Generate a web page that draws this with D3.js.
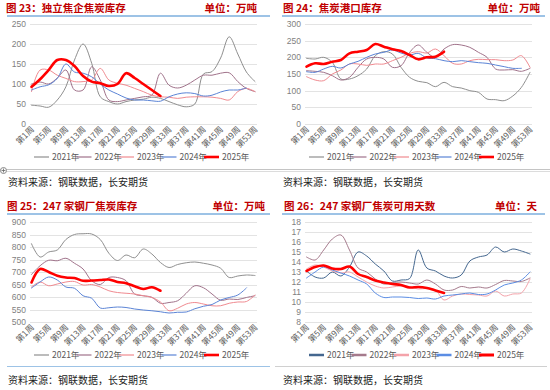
<!DOCTYPE html>
<html><head><meta charset="utf-8">
<script src="https://cdn.jsdelivr.net/npm/d3@7/dist/d3.min.js"></script>
<style>body{margin:0;background:#fff}svg{display:block}</style>
</head><body><svg id="c" width="550" height="390"></svg>
<script>
// ---------- data ----------
const weeks = [1,3,5,7,9,11,13,15,17,19,21,23,25,27,29,31,33,35,37,39,41,43,45,47,49,51,53];
const tickWeeks = [1,5,9,13,17,21,25,29,33,37,41,45,49,53];
const tickLabels = ["第1周","第5周","第9周","第13周","第17周","第21周","第25周","第29周","第33周","第37周","第41周","第45周","第49周","第53周"];
const seriesNames = ["2021年","2022年","2023年","2024年","2025年"];

// 图23 独立焦企焦炭库存 (万吨)
const c23_2021 = [47,45,42,60,93,160,200,152,68,56,50,56,60,62,67,64,56,48,43,50,125,131,165,218,175,130,106];
const c23_2022 = [100,105,100,115,135,85,85,143,110,60,56,60,64,68,72,127,97,90,97,110,122,122,127,128,106,89,81];
const c23_2023 = [81,135,135,122,114,106,106,110,139,110,102,97,89,81,72,68,67,64,67,68,68,67,64,60,81,89,81];
const c23_2024 = [85,93,98,114,150,130,127,118,100,85,75,65,60,60,58,57,68,75,78,76,70,72,80,85,85,90];
const c23_2025 = [93,112,135,160,160,145,120,106,102,95,100,127,115,100,85,70];
const c23_ticks = [0,50,100,150,200,250];

// 图24 焦炭港口库存 (万吨)
const c24_2021 = [197,195,200,185,135,135,145,165,205,217,210,170,140,128,124,112,125,112,108,100,95,75,73,70,84,110,155];
const c24_2022 = [160,158,155,145,132,140,170,195,200,195,170,175,215,237,215,200,225,238,237,230,215,200,165,162,163,158,167];
const c24_2023 = [142,132,130,150,162,180,180,176,180,180,190,200,212,217,213,225,205,182,180,190,194,193,193,190,192,205,170];
const c24_2024 = [157,155,165,173,168,180,188,200,210,215,222,213,207,212,198,196,190,187,190,187,184,182,177,172,167,167];
const c24_2025 = [172,182,180,187,192,212,217,222,240,232,224,219,207,194,200,202,217];
const c24_ticks = [0,50,100,150,200,250,300];

// 图25 247家钢厂焦炭库存 (万吨)
const c25_2021 = [813,760,780,788,830,850,853,852,830,775,746,768,757,792,772,738,718,730,737,740,735,728,715,678,684,688,686];
const c25_2022 = [690,725,747,745,755,735,712,665,650,678,678,665,612,605,599,575,578,585,615,645,637,612,587,592,590,598,605];
const c25_2023 = [640,660,645,652,660,662,648,650,640,625,618,615,612,605,598,580,545,555,572,578,572,565,565,575,580,582,608];
const c25_2024 = [636,660,680,668,640,635,605,595,556,557,560,558,552,548,545,541,536,539,540,553,563,570,588,598,608,636];
const c25_2025 = [658,712,700,685,678,676,665,666,668,670,660,655,643,632,639,625];
const c25_ticks = [500,550,600,650,700,750,800,850,900];

// 图26 247家钢厂焦炭可用天数 (天)
const c26_2021 = [13.1,12.5,12.4,13.0,12.6,13.5,15.0,14.6,13.8,13.1,12.1,12.2,12.35,15.2,13.4,13.1,12.6,12.4,12.7,14.1,14.5,14.7,15.5,15.0,15.3,15.1,14.8];
const c26_2022 = [14.5,14.2,15.2,16.3,16.7,15.2,13.4,13.0,12.3,11.8,11.95,12.0,11.9,11.8,12.2,11.8,11.2,11.2,11.55,11.4,11.5,11.4,11.75,12.15,12.1,12.05,12.4];
const c26_2023 = [13.3,13.7,13.5,13.1,12.9,13.0,12.5,12.0,11.6,11.4,11.5,11.6,11.5,11.3,11.35,11.2,10.2,10.6,10.8,10.75,10.7,10.6,11.1,10.6,10.8,10.9,12.3];
const c26_2024 = [12.4,13.0,13.5,13.2,12.9,12.6,12.2,11.8,10.9,10.45,10.5,10.5,10.45,10.35,10.4,10.3,10.6,10.7,10.8,10.9,10.75,10.8,11.2,11.7,11.9,12.2,13.0];
const c26_2025 = [13.1,13.5,13.65,13.35,13.3,13.55,12.8,12.5,12.15,11.95,11.8,11.7,11.45,11.5,11.4,11.15,10.9];
const c26_ticks = [8,9,10,11,12,13,14,15,16,17,18];

// ---------- styles ----------
const colorsA = ["#8f8f8f","#a0728a","#f08a90","#5b84d6","#ff0000"];
const colorsB = ["#44678f","#a57a8c","#f4a3aa","#5b8de4","#ff0000"];
const widths = [1,1,1,1,2.6];
const CJK = "'Noto Sans CJK SC','Noto Sans',sans-serif";

const panels = [
  {ox:0,   oy:0,   title:"图 23：独立焦企焦炭库存", unit:"单位：万吨", titleX:6, unitX:257, data:[c23_2021,c23_2022,c23_2023,c23_2024,c23_2025], ticks:c23_ticks, colors:colorsA},
  {ox:275, oy:0,   title:"图 24：焦炭港口库存", unit:"单位：万吨", titleX:8, unitX:265, data:[c24_2021,c24_2022,c24_2023,c24_2024,c24_2025], ticks:c24_ticks, colors:colorsA},
  {ox:0,   oy:198, title:"图 25：247 家钢厂焦炭库存", unit:"单位：万吨", titleX:7, unitX:265, data:[c25_2021,c25_2022,c25_2023,c25_2024,c25_2025], ticks:c25_ticks, colors:colorsA},
  {ox:275, oy:198, title:"图 26：247 家钢厂焦炭可用天数", unit:"单位：天", titleX:9, unitX:262, data:[c26_2021,c26_2022,c26_2023,c26_2024,c26_2025], ticks:c26_ticks, colors:colorsB, legendW:[2.5,2.5,2.5,2.5,3]}
];

const svg = d3.select("#c");
svg.append("rect").attr("width",550).attr("height",390).attr("fill","#fff");

// separators
svg.append("line").attr("x1",0).attr("x2",550).attr("y1",169.5).attr("y2",169.5).attr("stroke","#c4c4c4");
svg.append("line").attr("x1",0).attr("x2",550).attr("y1",171.5).attr("y2",171.5).attr("stroke","#dcdcdc");
svg.append("circle").attr("cx",3.5).attr("cy",170.5).attr("r",3).attr("fill","#fff").attr("stroke","#8a8a8a");
svg.append("path").attr("d","M1.5,170.5H5.5M3.5,168.5V172.5").attr("stroke","#666").attr("stroke-width",0.8);
svg.append("line").attr("x1",7).attr("x2",270).attr("y1",366.5).attr("y2",366.5).attr("stroke","#9dc3e6").attr("stroke-width",1.2);
svg.append("line").attr("x1",275).attr("x2",547).attr("y1",366.5).attr("y2",366.5).attr("stroke","#d0d0d0");

panels.forEach(p => {
  const g = svg.append("g").attr("transform",`translate(${p.ox},${p.oy})`);
  g.append("text").attr("x",p.titleX).attr("y",12).text(p.title)
    .attr("font-family",CJK).attr("font-weight","bold").attr("font-size",10.5).attr("fill","#c00000");
  g.append("text").attr("x",p.unitX).attr("y",12).attr("text-anchor","end").text(p.unit)
    .attr("font-family",CJK).attr("font-weight","bold").attr("font-size",10.5).attr("fill","#c00000");
  g.append("line").attr("x1",7).attr("x2",270).attr("y1",16).attr("y2",16)
    .attr("stroke","#9dc3e6").attr("stroke-width",2);

  const x = d3.scaleLinear().domain([1,53]).range([31.5,255]);
  const y = d3.scaleLinear().domain(d3.extent(p.ticks)).range([124,24]);

  // gridlines + y labels
  p.ticks.forEach(t => {
    g.append("line").attr("x1",30).attr("x2",257).attr("y1",Math.round(y(t))+0.5).attr("y2",Math.round(y(t))+0.5)
      .attr("stroke","#e3e3e3").attr("stroke-width",1);
    g.append("text").attr("x",26).attr("y",y(t)+3).attr("text-anchor","end").text(t)
      .attr("font-family","'Liberation Sans',Arial,sans-serif").attr("font-size",8.5).attr("fill","#7f7f7f");
  });
  // x labels
  tickWeeks.forEach((w,i) => {
    g.append("text").attr("text-anchor","end")
      .attr("transform",`translate(${x(w)+3},${130}) rotate(-45)`)
      .text(tickLabels[i]).attr("font-family",CJK).attr("font-size",8.3).attr("fill","#595959");
  });

  const line = d3.line().x((d,i)=>x(weeks[i])).y(d=>y(d)).curve(d3.curveCatmullRom.alpha(0.5));
  p.data.forEach((arr,k) => {
    g.append("path").attr("d",line(arr)).attr("fill","none")
      .attr("stroke",p.colors[k]).attr("stroke-width",widths[k])
      .attr("stroke-linejoin","round").attr("stroke-linecap","round");
  });

  // legend
  seriesNames.forEach((n,k) => {
    const lx = 34 + k*42.5;
    g.append("line").attr("x1",lx).attr("x2",lx+15).attr("y1",157).attr("y2",157)
      .attr("stroke",p.colors[k]).attr("stroke-width", p.legendW ? p.legendW[k] : (k===4?2.6:1.2));
    g.append("text").attr("x",lx+18).attr("y",160).text(n)
      .attr("font-family",CJK).attr("font-size",8.5).attr("fill","#595959");
  });

  g.append("text").attr("x",8).attr("y",186).text("资料来源：钢联数据，长安期货")
    .attr("font-family",CJK).attr("font-size",10).attr("fill","#222");
});
</script></body></html>
